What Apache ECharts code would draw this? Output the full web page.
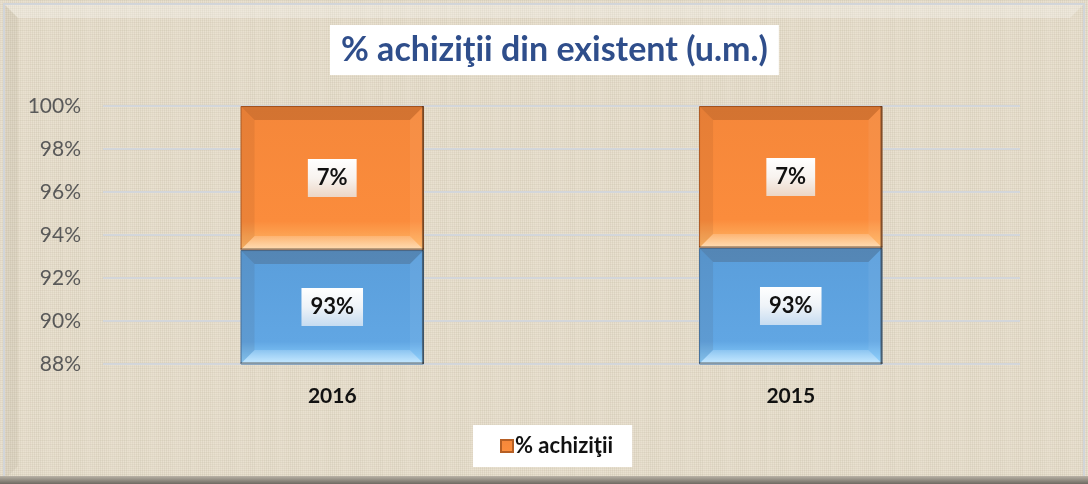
<!DOCTYPE html>
<html>
<head>
<meta charset="utf-8">
<title>% achiziţii din existent (u.m.)</title>
<script src="https://cdn.jsdelivr.net/npm/echarts@6/dist/echarts.min.js"></script>
<style>
    html, body { margin: 0; padding: 0; background: #e8e0cf; }
    #chart { width: 1088px; height: 484px; }
</style>
</head>
<body>
<div id="chart"></div>
<script>
// data
var years = ["2016", "2015"];
var existent = [93.3, 93.4];
var achizitii = [6.7, 6.6];
var yMin = 88;
var yMax = 100;
var yStep = 2;

var fontFam = "Lato, 'Open Sans', sans-serif";
var barRatio = 0.4;

// linen-like texture for the chart background
function linen() {
    var c = document.createElement("canvas");
    c.width = 64;
    c.height = 64;
    var g = c.getContext("2d");
    g.fillStyle = "#e9e1d0";
    g.fillRect(0, 0, 64, 64);
    for (var i = 0; i < 64; i += 2) {
        var a = 0.05 + 0.06 * Math.abs(Math.sin(i * 1.7));
        g.fillStyle = "rgba(150,135,110," + a.toFixed(3) + ")";
        g.fillRect(i, 0, 1, 64);
        var b = 0.04 + 0.06 * Math.abs(Math.cos(i * 2.3));
        g.fillStyle = "rgba(150,135,110," + b.toFixed(3) + ")";
        g.fillRect(0, i, 64, 1);
    }
    return c;
}

function grad(stops, x2, y2) {
    return new echarts.graphic.LinearGradient(0, 0, x2 == null ? 0 : x2, y2 == null ? 1 : y2, stops.map(function (s) {
        return { offset: s[0], color: s[1] };
    }));
}

var labelBgOrange = grad([[0, "#ffffff"], [0.5, "#f8f3ef"], [1, "#ecd6c6"]]);
var labelBgBlue = grad([[0, "#ffffff"], [0.5, "#eef3f8"], [1, "#c6dcf1"]]);

// bevel faces + value label for one stacked segment
function segment(api, i, lo, hi, val, labelBg) {
    var a = api.coord([i, Math.max(lo, yMin)]);
    var b = api.coord([i, Math.min(hi, yMax)]);
    var w = api.size([1, 0])[0] * barRatio;
    var x0 = a[0] - w / 2, x1 = a[0] + w / 2;
    var y0 = b[1], y1 = a[1];
    var bv = 14;
    return [
        { type: "polygon", shape: { points: [[x0, y0], [x1, y0], [x1 - bv, y0 + bv], [x0 + bv, y0 + bv]] },
          style: { fill: "rgba(60,30,10,0.18)" }, silent: true },
        { type: "polygon", shape: { points: [[x0, y0], [x0 + bv, y0 + bv], [x0 + bv, y1 - bv], [x0, y1]] },
          style: { fill: "rgba(60,30,10,0.08)" }, silent: true },
        { type: "polygon", shape: { points: [[x1, y0], [x1, y1], [x1 - bv, y1 - bv], [x1 - bv, y0 + bv]] },
          style: { fill: "rgba(255,255,255,0.06)" }, silent: true },
        { type: "polygon", shape: { points: [[x0, y1], [x1, y1], [x1 - bv, y1 - bv], [x0 + bv, y1 - bv]] },
          style: { fill: grad([[0, "rgba(255,255,255,0.18)"], [1, "rgba(255,255,255,0.5)"]]) }, silent: true },
        { type: "line", shape: { x1: x1 - 1, y1: y0, x2: x1 - 1, y2: y1 },
          style: { stroke: "rgba(30,20,10,0.45)", lineWidth: 2 }, silent: true },
        { type: "line", shape: { x1: x0, y1: y1 - 1, x2: x1, y2: y1 - 1 },
          style: { stroke: "rgba(30,20,10,0.3)", lineWidth: 2 }, silent: true },
        { type: "text", x: a[0], y: (y0 + y1) / 2,
          style: {
              text: Math.round(val) + "%",
              align: "center",
              verticalAlign: "middle",
              fill: "#111",
              font: "bold 22px " + fontFam,
              backgroundColor: labelBg,
              padding: [9, 9, 7, 9]
          }, silent: true }
    ];
}

var chart = echarts.init(document.getElementById("chart"));
chart.setOption({
    backgroundColor: { image: linen(), repeat: "repeat" },
    animation: false,
    graphic: [
        {
            type: "rect",
            shape: { x: 4, y: 4, width: 1080, height: 476 },
            style: { fill: "none", stroke: "#d2d5d9", lineWidth: 2 },
            silent: true
        },
        {
            type: "polygon",
            shape: { points: [[5, 5], [1083, 5], [1070, 18], [18, 18]] },
            style: { fill: "rgba(255,255,255,0.25)" },
            silent: true
        },
        {
            type: "polygon",
            shape: { points: [[5, 5], [18, 18], [18, 466], [5, 479]] },
            style: { fill: "rgba(120,105,80,0.08)" },
            silent: true
        },
        {
            type: "rect",
            shape: { x: 0, y: 476, width: 1088, height: 8 },
            style: { fill: grad([[0, "#b9b2a6"], [1, "#6f6a62"]]) },
            silent: true
        }
    ],
    title: {
        text: "% achiziţii din existent (u.m.)",
        left: 330,
        top: 25,
        backgroundColor: "#ffffff",
        padding: [8, 11, 8, 11],
        textStyle: {
            fontFamily: fontFam,
            fontWeight: "bold",
            fontSize: 34,
            color: "#2f4e8b"
        }
    },
    legend: {
        data: ["% achiziţii"],
        left: 473,
        top: 425,
        backgroundColor: "#ffffff",
        padding: [10, 19, 10, 27],
        itemWidth: 12,
        itemHeight: 12,
        itemGap: 4,
        icon: "rect",
        textStyle: {
            fontFamily: fontFam,
            fontWeight: "bold",
            fontSize: 22,
            color: "#111",
            padding: [0, 0, 0, -3]
        }
    },
    grid: {
        left: 103,
        right: 68,
        top: 106,
        bottom: 120
    },
    xAxis: {
        type: "category",
        data: years,
        axisLine: { show: false },
        axisTick: { show: false },
        axisLabel: {
            margin: 22,
            fontFamily: fontFam,
            fontWeight: "bold",
            fontSize: 21,
            color: "#111"
        }
    },
    yAxis: {
        type: "value",
        min: yMin,
        max: yMax,
        interval: yStep,
        axisLine: { show: false },
        axisTick: { show: false },
        splitLine: { lineStyle: { color: "#d3d6da", width: 2 } },
        axisLabel: {
            margin: 22,
            fontFamily: fontFam,
            fontSize: 21,
            color: "#595959",
            formatter: "{value}%"
        }
    },
    series: [
        {
            name: "existent",
            type: "bar",
            stack: "total",
            barWidth: barRatio * 100 + "%",
            data: existent,
            itemStyle: {
                color: grad([[0, "#5a9edb"], [0.8, "#61a6e3"], [1, "#8fd3ff"]]),
                borderColor: "#4577a6",
                borderWidth: 1
            }
        },
        {
            name: "% achiziţii",
            type: "bar",
            stack: "total",
            barWidth: barRatio * 100 + "%",
            data: achizitii,
            itemStyle: {
                color: grad([[0, "#f5873a"], [0.8, "#fb8c3c"], [1, "#ffba6a"]]),
                borderColor: "#b65f24",
                borderWidth: 1
            }
        },
        {
            name: "bevel",
            type: "custom",
            z: 3,
            data: years.map(function (y, i) { return [i, existent[i], achizitii[i]]; }),
            encode: { x: 0, y: 1 },
            renderItem: function (params, api) {
                var i = api.value(0);
                var e = api.value(1);
                var ac = api.value(2);
                return {
                    type: "group",
                    children: segment(api, i, 0, e, e, labelBgBlue)
                        .concat(segment(api, i, e, e + ac, ac, labelBgOrange))
                };
            }
        }
    ]
});
</script>
</body>
</html>
